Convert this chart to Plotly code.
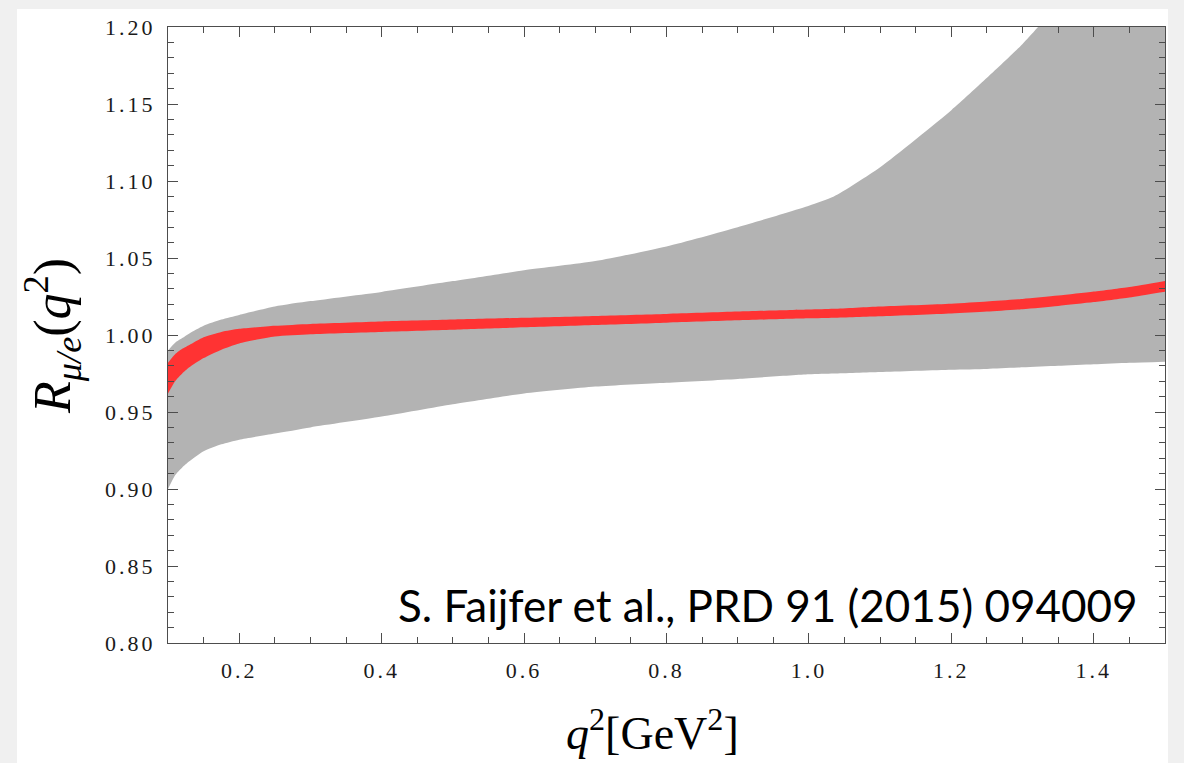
import plotly.graph_objects as go

# q^2 grid [GeV^2]
q2 = [0.10, 0.11, 0.12, 0.13, 0.15, 0.175, 0.20, 0.25, 0.30, 0.40, 0.50, 0.60,
      0.70, 0.80, 0.90, 1.00, 1.035, 1.10, 1.20, 1.25, 1.30, 1.35, 1.40, 1.45, 1.50]

# outer (gray) uncertainty band
band_upper = [0.990, 0.995, 0.998, 1.001, 1.006, 1.010, 1.013, 1.0185, 1.022, 1.028,
              1.035, 1.042, 1.048, 1.0575, 1.070, 1.084, 1.090, 1.109, 1.146, 1.167,
              1.189, 1.215, 1.245, 1.280, 1.320]
band_lower = [0.900, 0.909, 0.914, 0.918, 0.9245, 0.929, 0.932, 0.936, 0.940, 0.947,
              0.955, 0.962, 0.9665, 0.969, 0.9715, 0.9745, 0.975, 0.976, 0.9775, 0.978,
              0.979, 0.980, 0.981, 0.982, 0.9827]

# inner (red) band
red_upper = [0.982, 0.9875, 0.991, 0.9935, 0.9985, 1.002, 1.004, 1.006, 1.0072, 1.0088,
             1.0100, 1.0112, 1.0124, 1.0137, 1.0152, 1.0165, 1.0170, 1.0185, 1.0203, 1.0217,
             1.0234, 1.0256, 1.0282, 1.0312, 1.0351]
red_lower = [0.962, 0.970, 0.975, 0.979, 0.985, 0.9905, 0.9945, 0.999, 1.0005, 1.0020,
             1.0034, 1.0050, 1.0065, 1.0080, 1.0095, 1.0108, 1.0112, 1.0122, 1.0140, 1.0152,
             1.0168, 1.0189, 1.0214, 1.0244, 1.0281]

x_tickvals = [0.2, 0.4, 0.6, 0.8, 1.0, 1.2, 1.4]
y_tickvals = [0.80, 0.85, 0.90, 0.95, 1.00, 1.05, 1.10, 1.15, 1.20]

GRAY = "#b3b3b3"
RED = "#ff3333"
AXIS = "#4d4d4d"
SERIF = "Liberation Serif, Times New Roman, serif"


def band_edge(y, color, fill=None):
    return go.Scatter(x=q2, y=y, mode="lines",
                      line=dict(width=0, color=color, shape="spline", smoothing=0.6),
                      fill=fill, fillcolor=color if fill else None,
                      hoverinfo="skip", showlegend=False)


fig = go.Figure()
fig.add_trace(band_edge(band_lower, GRAY))
fig.add_trace(band_edge(band_upper, GRAY, "tonexty"))
fig.add_trace(band_edge(red_lower, RED))
fig.add_trace(band_edge(red_upper, RED, "tonexty"))

L, R, T, B = 168, 19, 27, 120
W, H = 1184, 763
pw, ph = W - L - R, H - T - B


def px(xp):
    return (xp - L) / pw


def py(yp):
    return (H - B - yp) / ph


fig.update_layout(
    width=W, height=H,
    margin=dict(l=L, r=R, t=T, b=B, pad=0),
    paper_bgcolor="#f0f0f0",
    plot_bgcolor="white",
    shapes=[dict(type="rect", xref="paper", yref="paper",
                 x0=px(17), x1=px(1168), y0=py(763), y1=py(9),
                 fillcolor="white", line=dict(width=0), layer="below")],
    xaxis=dict(
        range=[0.1, 1.5], showgrid=False, zeroline=False,
        showline=True, linecolor=AXIS, linewidth=1, mirror="ticks",
        tickmode="array", tickvals=x_tickvals,
        ticktext=[f"{v:.1f}" for v in x_tickvals],
        ticks="inside", ticklen=10, tickcolor=AXIS, tickwidth=1,
        minor=dict(dtick=0.05, tick0=0, ticks="inside", ticklen=6,
                   tickcolor=AXIS, tickwidth=1, showgrid=False),
        tickfont=dict(family=SERIF, size=22, color="#1a1a1a"),
        ticklabelstandoff=8,
    ),
    yaxis=dict(
        range=[0.8, 1.2], showgrid=False, zeroline=False,
        showline=True, linecolor=AXIS, linewidth=1, mirror="ticks",
        tickmode="array", tickvals=y_tickvals,
        ticktext=[f"{v:.2f}" for v in y_tickvals],
        ticks="inside", ticklen=10, tickcolor=AXIS, tickwidth=1,
        minor=dict(dtick=0.01, tick0=0, ticks="inside", ticklen=6,
                   tickcolor=AXIS, tickwidth=1, showgrid=False),
        tickfont=dict(family=SERIF, size=22, color="#1a1a1a"),
        ticklabelstandoff=7,
    ),
    annotations=[
        dict(text="S. Faijfer et al., PRD 91 (2015) 094009",
             xref="paper", yref="paper", x=px(1140), y=py(605),
             xanchor="right", yanchor="middle", showarrow=False,
             font=dict(family="Lato, Open Sans, sans-serif", size=44, color="black")),
        dict(text="<i>R</i><sub><i>μ/e</i></sub>(<i>q</i><sup>2</sup>)",
             xref="paper", yref="paper", x=px(52), y=py(336),
             xanchor="center", yanchor="middle", textangle=-90, showarrow=False,
             font=dict(family=SERIF, size=52, color="black")),
        dict(text="<i>q</i><sup>2</sup>[GeV<sup>2</sup>]",
             xref="paper", yref="paper", x=px(652), y=py(761),
             xanchor="center", yanchor="bottom", showarrow=False,
             font=dict(family=SERIF, size=46, color="black")),
    ],
)

# widen the spacing of the tick numerals
spacing_js = (
    "var s=document.createElement('style');"
    "s.textContent='.xtick text,.ytick text{letter-spacing:3px;}';"
    "document.head.appendChild(s);"
)
fig.write_html("out.html", post_script=spacing_js)
